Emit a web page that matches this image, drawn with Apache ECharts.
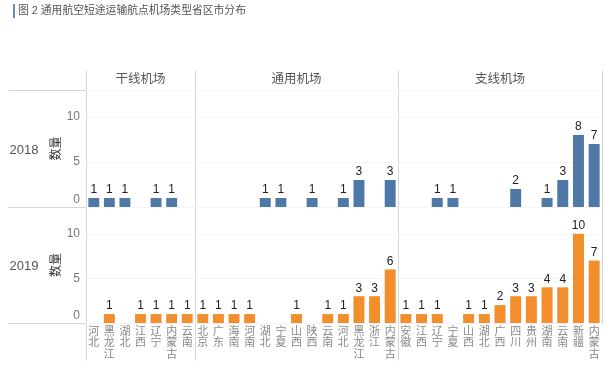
<!DOCTYPE html>
<html>
<head>
<meta charset="utf-8">
<script src="https://cdn.jsdelivr.net/npm/echarts@6/dist/echarts.min.js"></script>
<style>html,body{margin:0;padding:0;background:#fff}#c{width:612px;height:368px}</style>
</head>
<body>
<div id="c"></div>
<script>
const title = '图 2 通用航空短途运输航点机场类型省区市分布';
const panelNames = ['干线机场', '通用机场', '支线机场'];
const years = ['2018', '2019'];
const yTicks = [0, 5, 10];

const trunkCats = ['河北','黑龙江','湖北','江西','辽宁','内蒙古','云南'];
const trunk2018 = [1,1,1,0,1,1,0];
const trunk2019 = [0,1,0,1,1,1,1];

const gaCats = ['北京','广东','海南','河南','湖北','宁夏','山西','陕西','云南','河北','黑龙江','浙江','内蒙古'];
const ga2018 = [0,0,0,0,1,1,0,1,0,1,3,0,3];
const ga2019 = [1,1,1,1,0,0,1,0,1,1,3,3,6];

const feederCats = ['安徽','江西','辽宁','宁夏','山西','湖北','广西','四川','贵州','湖南','云南','新疆','内蒙古'];
const feeder2018 = [0,0,1,1,0,0,0,2,0,1,3,8,7];
const feeder2019 = [1,1,1,0,1,1,2,3,3,4,4,10,7];

const FONT = "'Liberation Sans','Noto Sans CJK SC',sans-serif";
const colors = ['#4e79a7', '#f28e2b'];
const cols = [[86,195],[195,398],[398,602]];
const rows = [[90,207],[207,323]];
const cats = [trunkCats, gaCats, feederCats];
const data = [[trunk2018, trunk2019],[ga2018, ga2019],[feeder2018, feeder2019]];

const grids = [], xAxes = [], yAxes = [], series = [];
let gi = 0;
for (let r = 0; r < 2; r++) {
  for (let c = 0; c < 3; c++) {
    grids.push({left: cols[c][0], width: cols[c][1]-cols[c][0], top: rows[r][0], height: rows[r][1]-rows[r][0], containLabel: false});
    xAxes.push({
      type: 'category', gridIndex: gi, data: cats[c],
      axisLine: {show: false}, axisTick: {show: false},
      axisLabel: {
        show: r === 1, interval: 0, margin: 3, color: '#888', fontSize: 11, lineHeight: 11.5,
        fontFamily: FONT, verticalAlign: 'top',
        formatter: v => v.split('').join('\n')
      }
    });
    yAxes.push({
      type: 'value', gridIndex: gi, min: 0, max: 13, interval: 5,
      axisLine: {show: false}, axisTick: {show: false},
      splitLine: {show: true, lineStyle: {color: '#f4f4f4'}},
      axisLabel: {show: c === 0, color: '#777', fontSize: 12, fontFamily: FONT, margin: 6,
        formatter: v => v === 0 ? '{z|0}' : (yTicks.includes(v) ? String(v) : ''),
        rich: {z: {color: '#777', fontSize: 12, fontFamily: FONT, padding: [0, 0, 14, 0]}}},
      name: c === 0 ? '数量' : '', nameLocation: 'middle', nameGap: 23, nameRotate: 90,
      nameTextStyle: {color: '#333', fontSize: 12, fontFamily: FONT}
    });
    series.push({
      type: 'bar', xAxisIndex: gi, yAxisIndex: gi, barWidth: '70%',
      data: data[c][r].map(v => v === 0 ? null : v),
      itemStyle: {color: colors[r]},
      label: {show: true, position: 'top', distance: 2, color: '#222', fontSize: 12, fontFamily: FONT},
      silent: true, animation: false
    });
    gi++;
  }
}

const lc = '#d6d6d6';
const lines = [
  [8,90,602,90],[8,207,602,207],[8,323,602,323],
  [86,70,86,360],[195,70,195,360],[398,70,398,360],[602,70,602,323]
];
const graphic = lines.map(l => ({type: 'line', silent: true, shape: {x1: l[0]+0.5, y1: l[1]+0.5, x2: l[2]+0.5, y2: l[3]+0.5}, style: {stroke: lc, lineWidth: 1}, z: 0}));
graphic.push({type: 'rect', shape: {x: 13, y: 4, width: 2, height: 14}, style: {fill: '#6a8fb8'}});
graphic.push({type: 'text', x: 18, y: 11, style: {text: title, fill: '#555', fontSize: 10.8, fontFamily: FONT, verticalAlign: 'middle'}});
panelNames.forEach((n, i) => {
  graphic.push({type: 'text', x: (cols[i][0]+cols[i][1])/2, y: 80, style: {text: n, fill: '#555', fontSize: 12.5, fontFamily: FONT, align: 'center', verticalAlign: 'middle'}});
});
years.forEach((y, i) => {
  graphic.push({type: 'text', x: 24, y: i === 0 ? 150 : 266, style: {text: y, fill: '#555', fontSize: 13, fontFamily: FONT, align: 'center', verticalAlign: 'middle'}});
});

const chart = echarts.init(document.getElementById('c'), null, {renderer: 'canvas'});
chart.setOption({
  animation: false,
  backgroundColor: '#fff',
  grid: grids, xAxis: xAxes, yAxis: yAxes, series: series, graphic: graphic
});
</script>
</body>
</html>
